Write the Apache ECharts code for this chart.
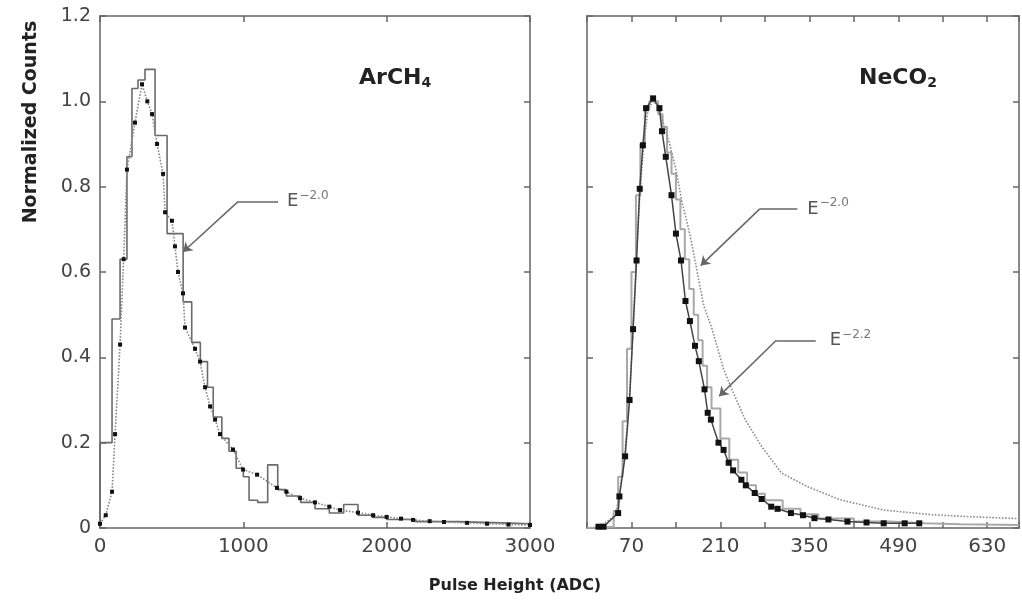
<!DOCTYPE html>
<html>
<head>
<meta charset="utf-8">
<script src="https://cdn.jsdelivr.net/npm/echarts@6/dist/echarts.min.js"></script>
<style>html,body{margin:0;padding:0;background:#fff}#c{width:1022px;height:606px}</style>
</head>
<body>
<div id="c"></div>
<script>
// ---- Left panel (ArCH4) ----
const leftHistEdges = [0, 84, 140, 188, 223, 265, 314, 384, 468, 580, 640, 700, 750, 790, 850, 900, 950, 1000, 1040, 1100, 1170, 1240, 1300, 1400, 1500, 1600, 1700, 1800, 1900, 2000, 2200, 2500, 2800, 3000];
const leftHistValues = [0.2, 0.49, 0.63, 0.87, 1.03, 1.05, 1.075, 0.92, 0.69, 0.53, 0.435, 0.39, 0.33, 0.26, 0.21, 0.18, 0.14, 0.12, 0.065, 0.06, 0.148, 0.09, 0.075, 0.06, 0.045, 0.035, 0.055, 0.03, 0.025, 0.02, 0.015, 0.012, 0.01];
const leftSimX = [0, 40, 84, 105, 140, 165, 188, 244, 293, 330, 363, 398, 440, 454, 502, 523, 544, 579, 593, 663, 698, 733, 768, 803, 837, 928, 998, 1096, 1235, 1300, 1396, 1500, 1600, 1675, 1800, 1905, 2000, 2100, 2184, 2300, 2400, 2561, 2700, 2850, 3000];
const leftSimY = [0.01, 0.03, 0.085, 0.22, 0.43, 0.63, 0.84, 0.95, 1.04, 1.0, 0.97, 0.9, 0.83, 0.74, 0.72, 0.66, 0.6, 0.55, 0.47, 0.42, 0.39, 0.33, 0.285, 0.254, 0.22, 0.184, 0.137, 0.125, 0.094, 0.085, 0.07, 0.06, 0.05, 0.042, 0.036, 0.03, 0.026, 0.022, 0.019, 0.016, 0.014, 0.012, 0.01, 0.008, 0.007];
const leftXTicks = [0, 1000, 2000, 3000];

// ---- Right panel (NeCO2) ----
const rightE22X = [18, 26, 49, 51, 60, 67, 72.5, 78, 83, 88, 93, 104, 114, 118, 124, 133, 140, 148, 155, 162, 170, 176, 185, 190, 195, 207, 215, 223, 230, 243, 250, 264, 275, 290, 300, 321, 340, 358, 380, 410, 440, 467, 500, 523];
const rightE22Y = [0.003, 0.003, 0.035, 0.074, 0.168, 0.30, 0.466, 0.627, 0.795, 0.897, 0.984, 1.007, 0.984, 0.93, 0.87, 0.78, 0.69, 0.627, 0.532, 0.485, 0.427, 0.391, 0.325, 0.27, 0.254, 0.2, 0.183, 0.153, 0.135, 0.113, 0.1, 0.082, 0.068, 0.05, 0.045, 0.035, 0.03, 0.023, 0.02, 0.015, 0.013, 0.011, 0.011, 0.011];
const rightE20X = [20, 45, 52, 60, 67, 73, 78, 84, 90, 96, 104, 112, 120, 130, 140, 150, 157, 163, 171, 176, 184, 197, 215, 228, 249, 275, 306, 347, 399, 467, 544, 610, 680];
const rightE20Y = [0.003, 0.03, 0.09, 0.18, 0.31, 0.48, 0.64, 0.8, 0.91, 0.98, 1.0, 0.99, 0.95, 0.9, 0.84, 0.76, 0.72, 0.68, 0.62, 0.58, 0.52, 0.466, 0.372, 0.325, 0.254, 0.191, 0.129, 0.097, 0.066, 0.042, 0.031, 0.026, 0.022];
const rightHistEdges = [0, 42, 49, 56, 63, 70, 77, 84, 91, 98, 105, 112, 119, 126, 133, 140, 147, 154, 161, 168, 175, 182, 189, 196, 210, 224, 238, 252, 266, 280, 308, 336, 364, 420, 476, 532, 588, 680];
const rightHistValues = [0.003, 0.04, 0.12, 0.25, 0.42, 0.6, 0.78, 0.9, 0.98, 1.0, 1.0, 0.97, 0.94, 0.88, 0.83, 0.77, 0.7, 0.63, 0.56, 0.5, 0.44, 0.38, 0.33, 0.28, 0.21, 0.16, 0.13, 0.1, 0.08, 0.065, 0.045, 0.032, 0.022, 0.015, 0.011, 0.009, 0.007];
const rightXTickLabels = [70, 210, 350, 490, 630];

const yTickLabels = ['0', '0.2', '0.4', '0.6', '0.8', '1.0', '1.2'];

function pairs(xs, ys) { return xs.map((x, i) => [x, ys[i]]); }
function histData(edges, vals) {
  const d = [[edges[0], 0]];
  vals.forEach((v, i) => d.push([edges[i], v]));
  d.push([edges[edges.length - 1], vals[vals.length - 1]]);
  return d;
}

const FONT = '"DejaVu Sans", "Liberation Sans", Arial, sans-serif';
const axisLineStyle = { color: '#8a8a8a', width: 2 };
const tickStyle = { color: '#666', width: 1.5 };

function xAxisDef(grid, min, max, interval, pos, labels) {
  return {
    type: 'value', gridIndex: grid, min: min, max: max, interval: interval, position: pos,
    axisLine: { show: true, onZero: false, lineStyle: axisLineStyle },
    axisTick: { show: true, inside: true, length: 6, lineStyle: tickStyle },
    splitLine: { show: false },
    axisLabel: labels ? {
      show: true, margin: 9, color: '#444', fontSize: 20, fontFamily: FONT,
      formatter: function (v) { return labels.indexOf(v) >= 0 ? String(v) : ''; }
    } : { show: false }
  };
}
function yAxisDef(grid, pos, labels) {
  return {
    type: 'value', gridIndex: grid, min: 0, max: 1.2, interval: 0.2, position: pos,
    axisLine: { show: true, onZero: false, lineStyle: axisLineStyle },
    axisTick: { show: true, inside: true, length: 6, lineStyle: tickStyle },
    splitLine: { show: false },
    axisLabel: labels ? {
      show: true, margin: 9, color: '#444', fontSize: 19, fontFamily: FONT,
      formatter: function (v) { return yTickLabels[Math.round(v / 0.2)]; }
    } : { show: false }
  };
}

function annot(start, end, tip, sup, dist) {
  const lineLab = {
    show: true, position: 'end', distance: dist,
    formatter: '{e|E}{s|' + sup + '}',
    rich: {
      e: { fontSize: 18, color: '#555', fontFamily: FONT },
      s: { fontSize: 12, color: '#777', fontFamily: FONT, padding: [0, 0, 11, 1] }
    }
  };
  return [
    [{ coord: start, symbol: 'none', label: lineLab }, { coord: end, symbol: 'none', label: lineLab }],
    [{ coord: start, symbol: 'none', label: { show: false } }, { coord: tip, symbol: 'arrow', symbolSize: 9, label: { show: false } }]
  ];
}
function markLineDef(data) {
  return {
    silent: true, animation: false, symbolSize: 9,
    lineStyle: { color: '#666', width: 1.5, type: 'solid' },
    itemStyle: { color: '#333' },
    emphasis: { disabled: true },
    data: data
  };
}

const chart = echarts.init(document.getElementById('c'));
chart.setOption({
  animation: false,
  backgroundColor: '#ffffff',
  grid: [
    { left: 100, top: 16, width: 430, height: 512 },
    { left: 587, top: 16, width: 437, height: 512 }
  ],
  xAxis: [
    xAxisDef(0, 0, 3000, 1000, 'bottom', leftXTicks),
    xAxisDef(0, 0, 3000, 1000, 'top', null),
    xAxisDef(1, 0, 680, 70, 'bottom', rightXTickLabels),
    xAxisDef(1, 0, 680, 70, 'top', null)
  ],
  yAxis: [
    yAxisDef(0, 'left', true),
    yAxisDef(0, 'right', false),
    yAxisDef(1, 'left', false),
    yAxisDef(1, 'right', false)
  ],
  graphic: [
    { type: 'text', left: 359, top: 67, style: { text: '{a|ArCH}{b|4}', rich: {
      a: { fontSize: 22, fontWeight: 'bold', fill: '#222', fontFamily: FONT },
      b: { fontSize: 14, fontWeight: 'bold', fill: '#222', fontFamily: FONT, padding: [11, 0, 0, 0] } } } },
    { type: 'text', left: 859, top: 67, style: { text: '{a|NeCO}{b|2}', rich: {
      a: { fontSize: 22, fontWeight: 'bold', fill: '#222', fontFamily: FONT },
      b: { fontSize: 14, fontWeight: 'bold', fill: '#222', fontFamily: FONT, padding: [11, 0, 0, 0] } } } },
    { type: 'text', x: 515, y: 586, style: { text: 'Pulse Height (ADC)', fontSize: 16, fontWeight: 'bold', fill: '#222', fontFamily: FONT, align: 'center', verticalAlign: 'middle' } },
    { type: 'text', x: 31, y: 122, rotation: Math.PI / 2, style: { text: 'Normalized Counts', fontSize: 19, fontWeight: 'bold', fill: '#222', fontFamily: FONT, align: 'center', verticalAlign: 'middle' } }
  ],
  series: [
    {
      name: 'ArCH4 data', type: 'line', xAxisIndex: 0, yAxisIndex: 0, step: 'end',
      data: histData(leftHistEdges, leftHistValues), showSymbol: false, symbol: 'none',
      lineStyle: { color: '#6a6a6a', width: 1.6 }, z: 2
    },
    {
      name: 'ArCH4 E-2.0', type: 'line', xAxisIndex: 0, yAxisIndex: 0,
      data: pairs(leftSimX, leftSimY), symbol: 'rect', symbolSize: 4, showSymbol: true,
      itemStyle: { color: '#111' }, lineStyle: { color: '#888', width: 1.6, type: 'dotted' }, z: 3,
      markLine: markLineDef(annot([963, 0.765], [1242, 0.765], [579, 0.647], '−2.0', 9))
    },
    {
      name: 'NeCO2 data', type: 'line', xAxisIndex: 2, yAxisIndex: 2, step: 'end',
      data: histData(rightHistEdges, rightHistValues), showSymbol: false, symbol: 'none',
      lineStyle: { color: '#a8a8a8', width: 2 }, z: 2
    },
    {
      name: 'NeCO2 E-2.0', type: 'line', xAxisIndex: 2, yAxisIndex: 2,
      data: pairs(rightE20X, rightE20Y), showSymbol: false, symbol: 'none',
      lineStyle: { color: '#8c8c8c', width: 1.6, type: 'dotted' }, z: 2,
      markLine: markLineDef(annot([272, 0.748], [331, 0.748], [179, 0.615], '−2.0', 10))
    },
    {
      name: 'NeCO2 E-2.2', type: 'line', xAxisIndex: 2, yAxisIndex: 2,
      data: pairs(rightE22X, rightE22Y), symbol: 'rect', symbolSize: 6, showSymbol: true,
      itemStyle: { color: '#111' }, lineStyle: { color: '#444', width: 1.5 }, z: 3,
      markLine: markLineDef(annot([298, 0.44], [360, 0.44], [208, 0.309], '−2.2', 14))
    }
  ]
});
</script>
</body>
</html>
